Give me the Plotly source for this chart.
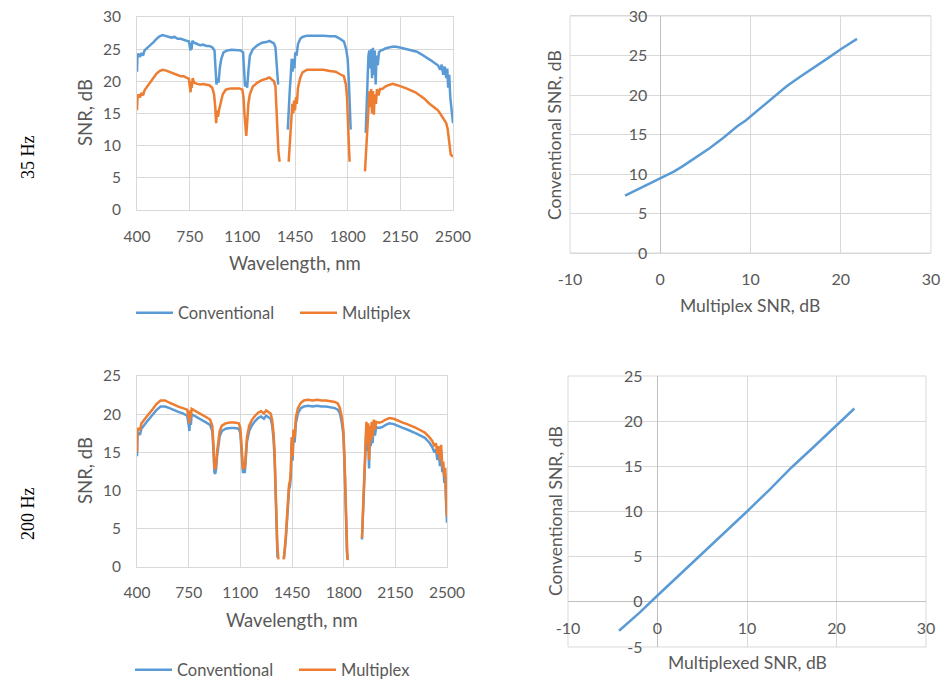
import plotly.graph_objects as go

# ---------------- data ----------------
wl_conv_35 = [400, 403, 410, 420, 430, 440, 450, 470, 490, 510, 530, 550, 570, 590, 610, 630, 650, 670, 690, 710,
              730, 745, 752, 756, 760, 763, 768, 780, 800, 820, 840, 860, 880, 900, 915, 922, 928, 935, 942, 950,
              960, 975, 1000, 1030, 1060, 1090, 1105, 1112, 1118, 1125, 1132, 1140, 1150, 1170, 1200, 1230, 1260,
              1280, 1295, 1310, 1320, 1328, 1334, 1338, None,
              1402, 1408, 1415, 1422, 1428, 1434, 1440, 1446, 1452, 1460, 1470, 1485, 1500, 1530, 1560, 1600,
              1640, 1680, 1720, 1750, 1775, 1790, 1800, 1808, 1815, 1820, None,
              1920, 1926, 1932, 1938, 1944, 1950, 1956, 1962, 1968, 1974, 1980, 1986, 1992, 2000, 2008, 2020,
              2035, 2050, 2080, 2110, 2140, 2170, 2200, 2230, 2260, 2290, 2320, 2350, 2380, 2400, 2415, 2425,
              2435, 2445, 2455, 2462, 2468, 2475, 2482, 2490, 2496, 2500]
snr_conv_35 = [21.5, 24.0, 24.3, 23.8, 24.4, 24.0, 24.8, 25.2, 25.7, 26.1, 26.6, 27.0, 27.2, 27.1, 27.0, 26.8, 26.9,
               26.6, 26.6, 26.4, 26.3, 26.2, 25.2, 24.8, 26.0, 25.0, 26.3, 26.0, 25.8, 25.6, 25.7, 25.5, 25.5, 25.3,
               24.8, 22.5, 19.5, 20.5, 19.8, 22.0, 23.5, 24.5, 24.8, 24.9, 24.9, 24.8, 24.5, 21.5, 19.2, 20.0, 19.0,
               21.5, 24.0, 25.0, 25.6, 26.0, 26.1, 26.3, 26.1, 25.9, 25.3, 22.5, 20.0, 19.5, None,
               12.5, 16.5, 18.5, 21.0, 23.5, 21.5, 23.5, 22.0, 24.5, 24.0, 25.8, 26.6, 26.9, 27.1, 27.1, 27.2,
               27.1, 27.0, 27.0, 26.6, 26.2, 25.0, 23.5, 20.0, 15.5, 12.5, None,
               12.0, 16.0, 21.5, 24.0, 24.8, 22.0, 25.0, 20.5, 25.2, 21.0, 24.8, 19.5, 24.0, 22.5, 24.5, 24.8,
               24.9, 25.1, 25.3, 25.4, 25.3, 25.1, 24.9, 24.8, 24.6, 24.2, 23.8, 23.3, 22.8, 22.5, 21.8, 22.6,
               21.0, 22.3, 20.5, 22.0, 19.0, 21.0, 17.5, 16.0, 14.0, 13.5]

wl_mult_35 = [400, 403, 410, 420, 430, 440, 450, 470, 490, 510, 530, 550, 570, 590, 610, 630, 650, 670, 690, 710,
              730, 745, 752, 756, 760, 764, 770, 780, 800, 820, 840, 860, 880, 900, 912, 920, 926, 932, 938, 945,
              955, 970, 990, 1020, 1050, 1080, 1100, 1108, 1114, 1120, 1126, 1132, 1140, 1150, 1170, 1200, 1230,
              1260, 1280, 1295, 1310, 1320, 1328, 1334, 1340, 1348, None,
              1408, 1414, 1420, 1426, 1432, 1438, 1444, 1450, 1456, 1462, 1470, 1484, 1500, 1530, 1560, 1600,
              1640, 1680, 1720, 1750, 1775, 1788, 1796, 1802, 1808, 1813, None,
              1915, 1922, 1930, 1938, 1945, 1950, 1956, 1962, 1968, 1974, 1980, 1988, 1995, 2005, 2015, 2030,
              2050, 2070, 2100, 2130, 2160, 2190, 2220, 2250, 2280, 2310, 2340, 2370, 2400, 2420, 2440, 2455,
              2465, 2475, 2485, 2495, 2500]
snr_mult_35 = [15.5, 17.3, 18.0, 17.5, 18.2, 17.8, 18.6, 19.3, 20.0, 20.6, 21.2, 21.6, 21.8, 21.7, 21.5, 21.3, 21.2,
               21.0, 20.8, 20.8, 20.5, 20.4, 19.0, 18.3, 20.0, 19.0, 20.5, 19.8, 19.6, 19.5, 19.6, 19.5, 19.4, 19.0,
               18.0, 16.0, 13.5, 15.5, 14.5, 15.5, 16.5, 18.0, 18.7, 18.9, 18.9, 18.9, 18.7, 17.5, 15.0, 12.5, 11.5,
               13.5, 16.5, 18.0, 19.2, 19.8, 20.2, 20.4, 20.6, 20.3, 20.0, 19.2, 15.5, 11.0, 9.0, 7.5, None,
               7.5, 10.0, 12.5, 14.0, 16.5, 15.0, 17.0, 15.5, 17.5, 16.5, 19.0, 20.5, 21.4, 21.8, 21.8, 21.9,
               21.8, 21.6, 21.5, 21.1, 20.8, 19.5, 17.5, 13.5, 10.0, 7.5, None,
               6.0, 9.0, 12.5, 16.0, 18.5, 16.0, 18.8, 15.0, 18.5, 14.8, 18.0, 16.5, 18.8, 17.8, 18.8, 18.8,
               19.2, 19.4, 19.6, 19.4, 19.2, 18.9, 18.6, 18.3, 17.8, 17.3, 16.6, 16.0, 15.5, 14.8, 14.0, 13.5,
               12.5, 10.5, 8.6, 8.4, 8.5]

wl_conv_200 = [400, 403, 410, 420, 430, 445, 470, 500, 530, 560, 590, 620, 650, 680, 710, 740, 750, 755, 760, 765,
               770, 790, 810, 840, 870, 895, 910, 918, 924, 930, 936, 942, 950, 960, 975, 1000, 1030, 1060, 1090,
               1100, 1106, 1112, 1118, 1124, 1130, 1136, 1145, 1160, 1180, 1200, 1220, 1240, 1260, 1275, 1290,
               1305, 1315, 1325, 1332, 1338, 1344, 1348, 1352, None,
               1395, 1400, 1408, 1416, 1424, 1430, 1436, 1442, 1448, 1454, 1460, 1468, 1476, 1490, 1510, 1530,
               1560, 1590, 1620, 1650, 1680, 1710, 1740, 1760, 1775, 1788, 1798, 1806, 1812, 1817, 1822, 1826, None,
               1924, 1930, 1936, 1942, 1948, 1954, 1960, 1966, 1972, 1978, 1984, 1990, 1996, 2004, 2012, 2020,
               2040, 2060, 2085, 2110, 2140, 2170, 2200, 2230, 2260, 2290, 2320, 2350, 2380, 2400, 2415, 2425,
               2435, 2445, 2452, 2460, 2468, 2475, 2482, 2488, 2494, 2498, 2500]
snr_conv_200 = [14.5, 17.2, 17.5, 17.3, 18.1, 18.5, 19.1, 19.8, 20.5, 21.0, 21.0, 20.8, 20.5, 20.3, 20.1, 19.8,
                18.6, 17.8, 19.8, 18.6, 20.0, 19.8, 19.6, 19.2, 18.9, 18.6, 17.8, 15.3, 12.4, 12.2, 12.8, 14.4,
                15.9, 17.1, 17.8, 18.1, 18.2, 18.2, 18.1, 17.5, 15.8, 13.4, 12.3, 12.6, 12.3, 13.9, 16.4, 17.8,
                18.6, 19.1, 19.5, 19.7, 19.4, 19.8, 19.6, 19.4, 18.6, 16.8, 14.3, 10.4, 6.0, 2.5, 1.2, None,
                1.1, 1.8, 3.6, 6.0, 9.0, 10.2, 10.6, 11.9, 16.3, 13.9, 17.3, 16.3, 18.8, 20.1, 20.8, 21.0,
                21.1, 21.0, 21.1, 21.0, 21.0, 20.9, 20.8, 20.6, 20.1, 18.8, 17.3, 13.4, 6.2, 5.7, 2.0, 1.0, None,
                3.6, 6.5, 10.4, 14.3, 16.8, 18.3, 15.2, 18.0, 12.9, 17.8, 15.8, 18.3, 16.2, 18.6, 17.2, 18.3,
                18.2, 18.3, 18.6, 18.8, 18.7, 18.4, 18.2, 18.0, 17.8, 17.5, 17.2, 16.9, 16.3, 15.7, 15.0, 15.4,
                14.0, 15.0, 13.2, 15.2, 12.4, 13.0, 11.0, 12.2, 8.3, 6.4, 5.8]

wl_mult_200 = [400, 403, 410, 420, 430, 445, 470, 500, 530, 560, 590, 620, 650, 680, 710, 740, 750, 755, 760, 765,
               770, 790, 810, 840, 870, 895, 910, 918, 924, 930, 936, 942, 950, 960, 975, 1000, 1030, 1060, 1090,
               1100, 1106, 1112, 1118, 1124, 1130, 1136, 1145, 1160, 1180, 1200, 1220, 1240, 1260, 1275, 1290,
               1305, 1315, 1325, 1332, 1338, 1344, 1350, 1358, None,
               1393, 1400, 1408, 1416, 1424, 1430, 1436, 1442, 1448, 1454, 1460, 1468, 1476, 1490, 1510, 1530,
               1560, 1590, 1620, 1650, 1680, 1710, 1740, 1760, 1775, 1788, 1798, 1806, 1812, 1818, 1824, 1828, None,
               1924, 1930, 1936, 1942, 1948, 1954, 1960, 1966, 1972, 1978, 1984, 1990, 1996, 2004, 2012, 2020,
               2040, 2060, 2085, 2110, 2140, 2170, 2200, 2230, 2260, 2290, 2320, 2350, 2380, 2400, 2415, 2425,
               2435, 2445, 2452, 2460, 2468, 2475, 2482, 2488, 2494, 2498, 2500]
snr_mult_200 = [15.0, 17.8, 18.2, 17.9, 18.8, 19.2, 19.8, 20.5, 21.3, 21.8, 21.8, 21.5, 21.2, 21.0, 20.8, 20.6,
                19.5, 18.8, 20.5, 19.5, 20.7, 20.5, 20.3, 19.9, 19.6, 19.3, 18.5, 16.0, 13.0, 12.8, 13.5, 15.0,
                16.5, 17.8, 18.5, 18.8, 18.9, 18.9, 18.8, 18.2, 16.5, 14.0, 12.8, 13.2, 12.9, 14.5, 17.0, 18.5,
                19.3, 19.8, 20.2, 20.4, 20.1, 20.5, 20.3, 20.1, 19.3, 17.5, 15.0, 11.0, 6.5, 3.0, 1.0, None,
                1.0, 2.0, 4.0, 6.5, 9.5, 10.8, 11.2, 12.5, 17.0, 14.5, 18.0, 17.0, 19.5, 20.8, 21.5, 21.8,
                21.9, 21.8, 21.9, 21.8, 21.8, 21.7, 21.6, 21.4, 20.8, 19.5, 18.0, 14.0, 9.0, 4.5, 2.0, 0.9, None,
                3.8, 7.0, 11.0, 15.0, 17.5, 19.0, 16.0, 18.8, 14.0, 18.5, 16.5, 19.0, 17.0, 19.3, 18.0, 19.0,
                18.9, 19.0, 19.3, 19.5, 19.4, 19.1, 18.9, 18.7, 18.5, 18.2, 17.9, 17.6, 17.0, 16.5, 15.8, 16.2,
                14.8, 15.8, 14.0, 16.0, 13.2, 13.8, 11.8, 13.0, 9.0, 7.0, 6.6]

mult_snr_35 = [-3.9, -2.0, 0.0, 1.5, 2.5, 4.0, 5.5, 7.0, 8.5, 9.5, 11.0, 12.5, 14.0, 15.5, 17.0, 18.5, 20.0, 21.8]
conv_snr_35 = [7.25, 8.3, 9.5, 10.3, 11.0, 12.1, 13.3, 14.6, 16.0, 16.8, 18.2, 19.7, 21.1, 22.3, 23.4, 24.6, 25.8, 27.1]

mult_snr_200 = [-4.3, -2.0, 0.0, 2.5, 5.0, 7.5, 10.0, 12.5, 15.0, 17.5, 20.0, 22.0]
conv_snr_200 = [-3.2, -1.2, 0.7, 3.0, 5.3, 7.7, 10.0, 12.4, 14.9, 17.2, 19.5, 21.4]

wl_ticks = [400, 750, 1100, 1450, 1800, 2150, 2500]
snr_x_ticks = [-10, 0, 10, 20, 30]
snr_y_ticks_200 = [-5, 0, 5, 10, 15, 20, 25]
row_labels = ["35 Hz", "200 Hz"]

# ---------------- styling ----------------
BLUE = "#5B9BD5"
ORANGE = "#ED7D31"
GRID = "#D9D9D9"
TXT = "#595959"
FONT = "Lato"
TICKF_L = dict(family=FONT, size=15.5, color=TXT)
TICKF_R = dict(family=FONT, size=16, color=TXT)
TITLEF_L = dict(family=FONT, size=18.5, color=TXT)
TITLEF_R = dict(family=FONT, size=17.5, color=TXT)

fig = go.Figure()

fig.add_trace(go.Scatter(x=wl_conv_35, y=snr_conv_35, mode="lines", name="Conventional",
                         line=dict(color=BLUE, width=2.5), xaxis="x", yaxis="y", legend="legend"))
fig.add_trace(go.Scatter(x=wl_mult_35, y=snr_mult_35, mode="lines", name="Multiplex",
                         line=dict(color=ORANGE, width=2.5), xaxis="x", yaxis="y", legend="legend"))
fig.add_trace(go.Scatter(x=mult_snr_35, y=conv_snr_35, mode="lines", showlegend=False,
                         line=dict(color=BLUE, width=2.5), xaxis="x2", yaxis="y2"))
fig.add_trace(go.Scatter(x=wl_conv_200, y=snr_conv_200, mode="lines", name="Conventional",
                         line=dict(color=BLUE, width=2.5), xaxis="x3", yaxis="y3", legend="legend2"))
fig.add_trace(go.Scatter(x=wl_mult_200, y=snr_mult_200, mode="lines", name="Multiplex",
                         line=dict(color=ORANGE, width=2.5), xaxis="x3", yaxis="y3", legend="legend2"))
fig.add_trace(go.Scatter(x=mult_snr_200, y=conv_snr_200, mode="lines", showlegend=False,
                         line=dict(color=BLUE, width=2.5), xaxis="x4", yaxis="y4"))

W, H = 946, 680
def px_x(p): return p / W
def px_y(p): return 1 - p / H

# domains (paper)
d1x = [px_x(137), px_x(453)]; d1y = [px_y(210), px_y(17)]
d2x = [px_x(570), px_x(931)]; d2y = [px_y(253), px_y(16)]
d3x = [px_x(137), px_x(447)]; d3y = [px_y(567), px_y(376)]
d4x = [px_x(568), px_x(926)]; d4y = [px_y(647), px_y(376)]

r2x = [-10, 30]; r2y = [0, 30]
r4x = [-10, 30]; r4y = [-5, 25]

def frac(r, v): return (v - r[0]) / (r[1] - r[0])

common = dict(showgrid=True, gridcolor=GRID, gridwidth=1, ticks="", fixedrange=True, automargin=False)

fig.update_layout(
    width=W, height=H, margin=dict(l=0, r=0, t=0, b=0, autoexpand=False),
    paper_bgcolor="white", plot_bgcolor="white",
    xaxis=dict(domain=d1x, anchor="y", range=[400, 2500], tickvals=wl_ticks, zeroline=False,
               showline=True, mirror=True, linecolor=GRID, ticklabelstandoff=12, tickfont=TICKF_L, **common),
    yaxis=dict(domain=d1y, anchor="x", range=[0, 30], dtick=5, zeroline=False,
               showline=True, mirror=True, linecolor=GRID, ticklabelstandoff=12, tickfont=TICKF_L, **common),
    xaxis2=dict(domain=d2x, anchor="y2", range=r2x, tickvals=snr_x_ticks,
                ticktext=[str(v) for v in snr_x_ticks], zeroline=True, zerolinecolor="#BFBFBF",
                zerolinewidth=1, showline=True, mirror=True, linecolor=GRID, ticklabelstandoff=12,
                tickfont=TICKF_R, **common),
    yaxis2=dict(domain=d2y, anchor="free", position=d2x[0] + frac(r2x, 0) * (d2x[1] - d2x[0]),
                range=r2y, dtick=5, zeroline=True, zerolinecolor="#BFBFBF", zerolinewidth=1,
                showline=False, ticklabelstandoff=13, tickfont=TICKF_R, **common),
    xaxis3=dict(domain=d3x, anchor="y3", range=[400, 2500], tickvals=wl_ticks, zeroline=False,
                showline=True, mirror=True, linecolor=GRID, ticklabelstandoff=11, tickfont=TICKF_L, **common),
    yaxis3=dict(domain=d3y, anchor="x3", range=[0, 25], dtick=5, zeroline=False,
                showline=True, mirror=True, linecolor=GRID, ticklabelstandoff=12, tickfont=TICKF_L, **common),
    xaxis4=dict(domain=d4x, anchor="free", position=d4y[0] + frac(r4y, 0) * (d4y[1] - d4y[0]),
                range=r4x, tickvals=snr_x_ticks, ticktext=[str(v) for v in snr_x_ticks],
                zeroline=True, zerolinecolor="#BFBFBF", zerolinewidth=1,
                showline=False, ticklabelstandoff=15, tickfont=TICKF_R, **common),
    yaxis4=dict(domain=d4y, anchor="free", position=d4x[0] + frac(r4x, 0) * (d4x[1] - d4x[0]),
                range=r4y, tickvals=snr_y_ticks_200, ticktext=[str(v) for v in snr_y_ticks_200],
                zeroline=True, zerolinecolor="#BFBFBF", zerolinewidth=1,
                showline=False, ticklabelstandoff=15, tickfont=TICKF_R, **common),
    legend=dict(orientation="h", x=px_x(131), xanchor="left", y=px_y(313), yanchor="middle",
                font=dict(family=FONT, size=16.5, color=TXT), bgcolor="rgba(0,0,0,0)",
                itemwidth=37, entrywidth=112, entrywidthmode="pixels"),
    legend2=dict(orientation="h", x=px_x(130), xanchor="left", y=px_y(670), yanchor="middle",
                 font=dict(family=FONT, size=16.5, color=TXT), bgcolor="rgba(0,0,0,0)",
                 itemwidth=37, entrywidth=112, entrywidthmode="pixels"),
    showlegend=True,
)

# plot-area borders for the right-hand charts
for xa, ya in (("x2", "y2"), ("x4", "y4")):
    fig.add_shape(type="rect", xref=f"{xa} domain", yref=f"{ya} domain", x0=0, x1=1, y0=0, y1=1,
                  line=dict(color=GRID, width=1), layer="below")

# axis titles
titles = [
    ("Wavelength, nm", px_x(295), px_y(263), 0, TITLEF_L),
    ("SNR, dB", px_x(85), px_y(113), -90, TITLEF_L),
    ("Multiplex SNR, dB", px_x(750), px_y(305), 0, TITLEF_R),
    ("Conventional SNR, dB", px_x(555), px_y(135), -90, TITLEF_R),
    ("Wavelength, nm", px_x(292), px_y(620), 0, TITLEF_L),
    ("SNR, dB", px_x(85), px_y(471), -90, TITLEF_L),
    ("Multiplexed SNR, dB", px_x(747), px_y(662), 0, TITLEF_R),
    ("Conventional SNR, dB", px_x(555), px_y(511), -90, TITLEF_R),
]
for t, x, y, a, f in titles:
    fig.add_annotation(text=t, x=x, y=y, xref="paper", yref="paper", showarrow=False,
                       textangle=a, font=f, xanchor="center", yanchor="middle")

for lab, yc in zip(row_labels, (157, 514)):
    fig.add_annotation(text=lab, x=px_x(28), y=px_y(yc), xref="paper", yref="paper", showarrow=False,
                       textangle=-90, font=dict(family="Liberation Serif", size=18, color="black"),
                       xanchor="center", yanchor="middle")

fig.write_html("out.html")
